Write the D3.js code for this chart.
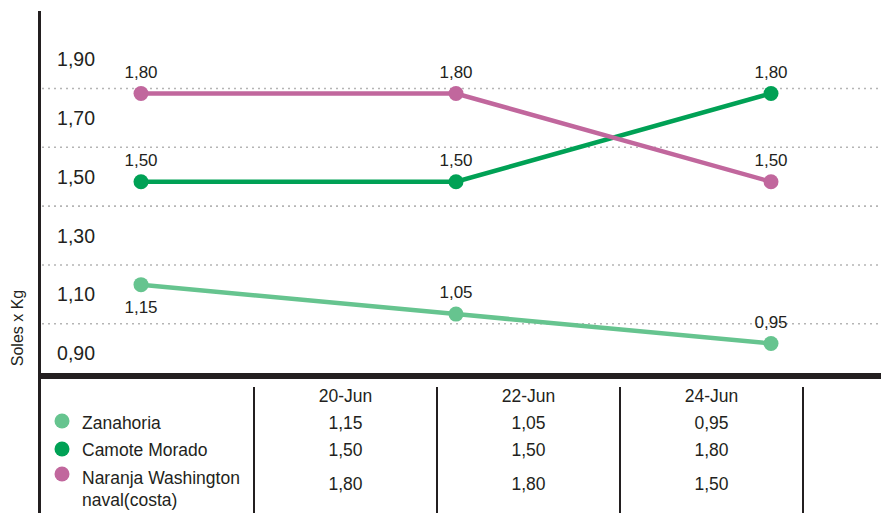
<!DOCTYPE html>
<html>
<head>
<meta charset="utf-8">
<script src="https://cdn.jsdelivr.net/npm/d3@7/dist/d3.min.js"></script>
<style>
  html, body { margin: 0; padding: 0; background: #ffffff; }
  svg { display: block; font-family: "Liberation Sans", Arial, Helvetica, sans-serif; }
</style>
</head>
<body>
<svg id="chart" width="881" height="513"></svg>
<script>
// ---- data ----
const dates = ["20-Jun", "22-Jun", "24-Jun"];
const seriesNames = ["Zanahoria", "Camote Morado", "Naranja Washington naval(costa)"];
const legendLines = [["Zanahoria"], ["Camote Morado"], ["Naranja Washington", "naval(costa)"]];
const zanahoria = [1.15, 1.05, 0.95];
const camoteMorado = [1.50, 1.50, 1.80];
const naranja = [1.80, 1.80, 1.50];
const seriesValues = [zanahoria, camoteMorado, naranja];
const seriesColors = ["#66c48f", "#00a155", "#c1679d"];
const yTickValues = [1.90, 1.70, 1.50, 1.30, 1.10, 0.90];
const gridValues = [1.80, 1.60, 1.40, 1.20, 1.00];
const yTitle = "Soles x Kg";
// labels drawn below their point instead of above
const labelsBelow = [[true, false, false], [false, false, false], [false, false, false]];

const fmt = v => d3.format(".2f")(v).replace(".", ",");

const svg = d3.select("#chart");
const W = 881;

// ---- scales ----
const x = d3.scalePoint().domain(dates).range([141, 771]);
const y = d3.scaleLinear().domain([1.80, 0.95]).range([93.5, 343.5]);
const tableX = d3.scaleBand().domain(dates).range([254, 803]);
const tickShift = -5;

// ---- gridlines ----
svg.append("g").selectAll("line").data(gridValues).join("line")
  .attr("x1", 42).attr("x2", W)
  .attr("y1", d => y(d) + tickShift).attr("y2", d => y(d) + tickShift)
  .attr("stroke", "#b5b5b5").attr("stroke-width", 1.6)
  .attr("stroke-dasharray", "2,4");

// ---- y tick labels ----
svg.append("g").selectAll("text").data(yTickValues).join("text")
  .attr("x", 95).attr("y", d => y(d) + tickShift)
  .attr("dy", "0.36em")
  .attr("text-anchor", "end")
  .attr("font-size", 19.5).attr("fill", "#231f20")
  .text(fmt);

// ---- axis title ----
svg.append("text")
  .attr("transform", "translate(23,328) rotate(-90)")
  .attr("text-anchor", "middle")
  .attr("font-size", 16).attr("fill", "#231f20")
  .text(yTitle);

// ---- axes frame ----
svg.append("line").attr("x1", 39.5).attr("x2", 39.5).attr("y1", 11).attr("y2", 513)
  .attr("stroke", "#231f20").attr("stroke-width", 3);
svg.append("line").attr("x1", 38).attr("x2", W).attr("y1", 376).attr("y2", 376)
  .attr("stroke", "#231f20").attr("stroke-width", 6);

// ---- lines & points ----
const line = d3.line().x((d, i) => x(dates[i])).y(d => y(d));
seriesValues.forEach((vals, s) => {
  svg.append("path").datum(vals)
    .attr("d", line)
    .attr("fill", "none")
    .attr("stroke", seriesColors[s])
    .attr("stroke-width", 4.5);
});
seriesValues.forEach((vals, s) => {
  svg.append("g").selectAll("circle").data(vals).join("circle")
    .attr("cx", (d, i) => x(dates[i]))
    .attr("cy", d => y(d))
    .attr("r", 7.5)
    .attr("fill", seriesColors[s]);
  svg.append("g").selectAll("text").data(vals).join("text")
    .attr("x", (d, i) => x(dates[i]))
    .attr("y", (d, i) => labelsBelow[s][i] ? y(d) + 28 : y(d) - 16)
    .attr("text-anchor", "middle")
    .attr("font-size", 17).attr("fill", "#231f20")
    .text(fmt);
});

// ---- table ----
const table = svg.append("g");
[254, 437, 619, 803].forEach(() => {});
const colEdges = dates.map(d => tableX(d)).concat([tableX.range()[1]]);
table.selectAll("line").data(colEdges).join("line")
  .attr("x1", d => d).attr("x2", d => d)
  .attr("y1", 387).attr("y2", 513)
  .attr("stroke", "#231f20").attr("stroke-width", 2);

table.selectAll("text.hdr").data(dates).join("text").attr("class", "hdr")
  .attr("x", d => tableX(d) + tableX.bandwidth() / 2)
  .attr("y", 402)
  .attr("text-anchor", "middle")
  .attr("font-size", 17.5).attr("fill", "#231f20")
  .text(d => d);

const rowY = [429, 456, 490];
seriesValues.forEach((vals, s) => {
  table.append("g").selectAll("text").data(vals).join("text")
    .attr("x", (d, i) => tableX(dates[i]) + tableX.bandwidth() / 2)
    .attr("y", rowY[s])
    .attr("text-anchor", "middle")
    .attr("font-size", 17.5).attr("fill", "#231f20")
    .text(fmt);
});

// ---- legend ----
const legendDotY = [421, 449, 474];
const legendTextY = [429, 456, 484];
seriesNames.forEach((name, s) => {
  table.append("circle")
    .attr("cx", 62).attr("cy", legendDotY[s]).attr("r", 7.5)
    .attr("fill", seriesColors[s]);
  const t = table.append("text")
    .attr("x", 82).attr("y", legendTextY[s])
    .attr("font-size", 17.5).attr("fill", "#231f20");
  legendLines[s].forEach((ln, k) => {
    t.append("tspan").attr("x", 82).attr("dy", k === 0 ? 0 : 22).text(ln);
  });
});
</script>
</body>
</html>
